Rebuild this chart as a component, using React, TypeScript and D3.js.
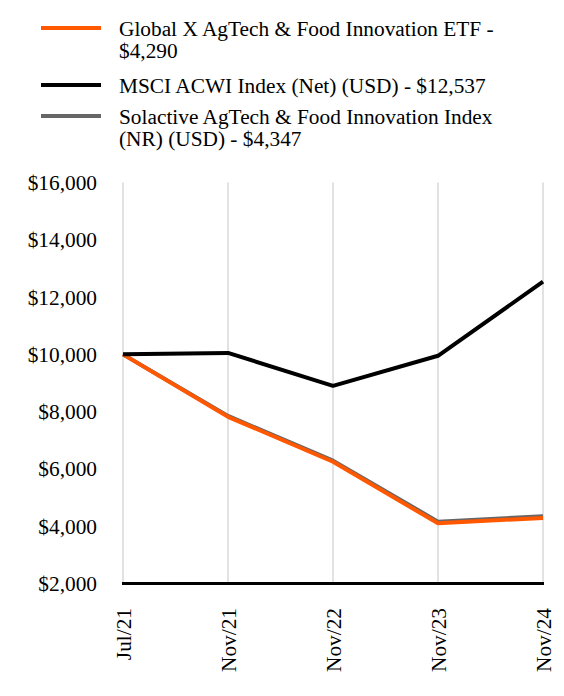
import React from "react";
import * as d3 from "d3";

const categories = ["Jul/21", "Nov/21", "Nov/22", "Nov/23", "Nov/24"];
const fundValues = [10000, 7820, 6250, 4100, 4290];
const msciValues = [10000, 10050, 8900, 9950, 12537];
const solactiveValues = [10000, 7850, 6290, 4160, 4347];
const yTicks = [2000, 4000, 6000, 8000, 10000, 12000, 14000, 16000];

const legendItems = [
  { lines: ["Global X AgTech & Food Innovation ETF -", "$4,290"], color: "#FF5800" },
  { lines: ["MSCI ACWI Index (Net) (USD) - $12,537"], color: "#000000" },
  { lines: ["Solactive AgTech & Food Innovation Index", "(NR) (USD) - $4,347"], color: "#666666" },
];

const W = 564;
const H = 696;
const FONT = "Liberation Serif";
const FS = 21.33;

export default function App() {
  const x = d3.scalePoint<string>().domain(categories).range([123, 543]);
  const y = d3.scaleLinear().domain([2000, 16000]).range([583.5, 182.5]);
  const line = d3
    .line<number>()
    .x((_, i) => x(categories[i]) as number)
    .y((d) => y(d));

  const series = [
    { values: solactiveValues, color: "#666666" },
    { values: fundValues, color: "#FF5800" },
    { values: msciValues, color: "#000000" },
  ];

  const swatchY = [28, 85, 116];

  return (
    <svg
      width={W}
      height={H}
      style={{ position: "absolute", left: 0, top: 0, background: "#fff", fontFamily: FONT }}
    >
      {legendItems.map((item, i) => (
        <g key={i}>
          <line x1={41} x2={101} y1={swatchY[i]} y2={swatchY[i]} stroke={item.color} strokeWidth={4} />
          {item.lines.map((t, j) => (
            <text key={j} x={119} y={swatchY[i] + 7.5 + j * 22} fontSize={FS} fill="#000" style={{ fontFamily: FONT }}>
              {t}
            </text>
          ))}
        </g>
      ))}

      {categories.map((c) => (
        <line
          key={c}
          x1={x(c)}
          x2={x(c)}
          y1={y(16000)}
          y2={y(2000)}
          stroke="#d9d9d9"
          strokeWidth={1.5}
        />
      ))}

      {yTicks.map((t) => (
        <text key={t} x={97} y={y(t)} dy="0.35em" textAnchor="end" fontSize={FS} fill="#000" style={{ fontFamily: FONT }}>
          {d3.format("$,")(t)}
        </text>
      ))}

      <line x1={122} x2={544} y1={y(2000)} y2={y(2000)} stroke="#000" strokeWidth={3} />

      {categories.map((c) => (
        <text
          key={c}
          transform={`translate(${(x(c) as number) + 7.5},${608}) rotate(-90)`}
          textAnchor="end"
          fontSize={FS}
          fill="#000"
          style={{ fontFamily: FONT }}
        >
          {c}
        </text>
      ))}

      {series.map((s, i) => (
        <path
          key={i}
          d={line(s.values) || ""}
          fill="none"
          stroke={s.color}
          strokeWidth={4}
          strokeLinejoin="round"
        />
      ))}
    </svg>
  );
}
